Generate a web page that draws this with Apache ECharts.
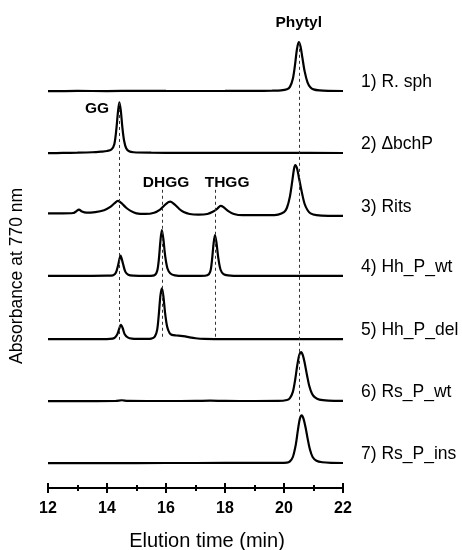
<!DOCTYPE html>
<html><head><meta charset="utf-8">
<script src="https://cdn.jsdelivr.net/npm/echarts@6/dist/echarts.min.js"></script>
<style>html,body{margin:0;padding:0;background:#fff}#c{width:462px;height:550px}</style>
</head><body><div id="c"></div><script>
// ---- data (elution time in min, relative absorbance) ----
const sampleNames = ["1) R. sph","2) \u0394bchP","3) Rits","4) Hh_P_wt","5) Hh_P_del","6) Rs_P_wt","7) Rs_P_ins"];
const xTickValues = [12,14,16,18,20,22];

const rsph = [[12,0],[13,0.004],[14,0.002],[15,0.006],[16,0.004],[17,0.003],[18,0.004],[19,0.006],[19.6,0.008],[19.9,0.012],[20.1,0.03],[20.2,0.07],[20.3,0.2],[20.38,0.45],[20.44,0.68],[20.5,0.79],[20.56,0.72],[20.62,0.55],[20.7,0.32],[20.8,0.14],[20.9,0.06],[21.0,0.03],[21.2,0.012],[21.5,0.005],[22,0.003]];
const dbchP = [[12,0],[12.5,0.004],[13,0.008],[13.5,0.015],[13.8,0.025],[14.0,0.035],[14.15,0.06],[14.25,0.15],[14.32,0.4],[14.37,0.66],[14.42,0.82],[14.47,0.68],[14.52,0.42],[14.58,0.2],[14.65,0.08],[14.75,0.03],[14.9,0.015],[15.5,0.008],[16.5,0.005],[18,0.004],[20,0.004],[22,0.003]];
const rits = [[12,0.03],[12.5,0.03],[12.85,0.035],[12.95,0.06],[13.05,0.09],[13.15,0.06],[13.3,0.04],[13.6,0.05],[13.9,0.08],[14.1,0.13],[14.25,0.19],[14.37,0.23],[14.5,0.19],[14.65,0.12],[14.8,0.07],[15.0,0.03],[15.3,0.02],[15.6,0.04],[15.8,0.09],[15.95,0.16],[16.08,0.21],[16.15,0.22],[16.3,0.17],[16.45,0.1],[16.6,0.05],[16.8,0.02],[17.1,0.01],[17.4,0.02],[17.6,0.06],[17.75,0.11],[17.85,0.15],[17.95,0.13],[18.1,0.07],[18.3,0.02],[18.6,0.0],[19,0],[19.5,0.0],[19.8,0.01],[20.0,0.05],[20.1,0.12],[20.2,0.3],[20.28,0.55],[20.34,0.75],[20.38,0.81],[20.44,0.76],[20.5,0.62],[20.6,0.38],[20.7,0.18],[20.8,0.08],[20.9,0.03],[21.1,0.0],[21.5,-0.01],[22,-0.01]];
const hhPwt = [[12,0.02],[13,0.02],[14,0.025],[14.2,0.03],[14.3,0.07],[14.38,0.2],[14.46,0.35],[14.54,0.22],[14.62,0.09],[14.72,0.04],[14.9,0.025],[15.3,0.02],[15.6,0.03],[15.7,0.1],[15.76,0.3],[15.81,0.58],[15.86,0.76],[15.91,0.62],[15.97,0.35],[16.05,0.14],[16.15,0.06],[16.3,0.03],[16.6,0.02],[17.2,0.02],[17.4,0.03],[17.5,0.09],[17.56,0.28],[17.61,0.53],[17.66,0.68],[17.71,0.56],[17.77,0.32],[17.85,0.12],[17.95,0.05],[18.1,0.03],[18.5,0.02],[20,0.02],[22,0.02]];
const hhPdel = [[12,0],[13.5,0.0],[14.1,0.005],[14.25,0.02],[14.35,0.08],[14.42,0.18],[14.47,0.23],[14.53,0.18],[14.6,0.08],[14.7,0.03],[14.85,0.01],[15.2,0.005],[15.5,0.01],[15.62,0.04],[15.7,0.15],[15.76,0.42],[15.81,0.7],[15.86,0.82],[15.91,0.7],[15.97,0.42],[16.04,0.2],[16.12,0.1],[16.2,0.07],[16.35,0.06],[16.5,0.055],[16.65,0.045],[16.8,0.03],[17.0,0.015],[17.3,0.005],[18,0],[20,0],[22,0]];
const rsPwt = [[12,0],[13,0.002],[14.3,0.004],[14.5,0.015],[14.7,0.004],[16,0.003],[17,0.005],[17.5,0.008],[18,0.004],[19,0.003],[19.8,0.005],[20.1,0.02],[20.2,0.05],[20.3,0.15],[20.38,0.35],[20.45,0.58],[20.52,0.75],[20.58,0.79],[20.64,0.74],[20.7,0.62],[20.78,0.42],[20.86,0.24],[20.95,0.12],[21.05,0.06],[21.2,0.025],[21.5,0.01],[22,0.005]];
const rsPins = [[12,0],[14,0.002],[16,0.003],[18,0.004],[19.5,0.004],[20.1,0.01],[20.2,0.03],[20.3,0.1],[20.4,0.3],[20.47,0.53],[20.54,0.72],[20.6,0.77],[20.66,0.72],[20.73,0.58],[20.8,0.4],[20.88,0.22],[20.97,0.1],[21.1,0.04],[21.3,0.015],[21.6,0.005],[22,0.003]];
const traces = [rsph, dbchP, rits, hhPwt, hhPdel, rsPwt, rsPins];

const peakNames = ["Phytyl","GG","DHGG","THGG"];
const peakTimes = [20.5, 14.42, 15.86, 17.66];

// ---- layout ----
const FONT = "'Liberation Sans', Arial, sans-serif";
const N = traces.length;
const baseOf = i => (N - 1 - i) + 0.4;
// annotation anchors (value coords)
const labelAnchors = [[20.5, 7.5], [13.66, 6.11], [16.0, 4.92], [18.07, 4.92]];
// dashed guide extents (value coords, from top to bottom)
const guideSpans = [[7.18, 1.23], [6.21, 2.39], [4.81, 2.39], [4.81, 2.42]];

const series = traces.map((tr, i) => ({
  type: 'line', name: sampleNames[i], xAxisIndex: 0, yAxisIndex: 0,
  data: tr.map(p => [p[0], p[1] + baseOf(i)]),
  showSymbol: false, symbol: 'none', smooth: 0.3, z: 3,
  lineStyle: { color: '#000', width: 2.2 },
  endLabel: { show: true, formatter: '{a}', position: 'right', distance: 18, offset: [0, -9],
    fontSize: 17.5, color: '#000', fontFamily: FONT }
}));

series.push({
  type: 'scatter', xAxisIndex: 0, yAxisIndex: 0, symbolSize: 0, z: 5,
  itemStyle: { opacity: 1, color: '#000' },
  data: peakNames.map((n, k) => ({ name: n, value: labelAnchors[k] })),
  label: { show: true, position: 'inside', formatter: '{b}', fontSize: 15.5, fontWeight: 'bold', color: '#000', opacity: 1, fontFamily: FONT },
  markLine: {
    silent: true, symbol: ['none', 'none'], animation: false,
    label: { show: false },
    lineStyle: { type: [3, 3], color: '#333', width: 1, opacity: 1 },
    data: peakTimes.map((t, k) => [{ coord: [t, guideSpans[k][0]] }, { coord: [t, guideSpans[k][1]] }])
  }
});

const axisCommon = { type: 'value', min: xTickValues[0], max: xTickValues[xTickValues.length - 1], interval: 2, splitLine: { show: false } };

const option = {
  animation: false,
  textStyle: { fontFamily: FONT },
  grid: { left: 48, right: 119, top: 10.6, bottom: 62, containLabel: false },
  xAxis: [
    Object.assign({}, axisCommon, {
      position: 'bottom',
      axisLine: { show: true, lineStyle: { color: '#000', width: 2 } },
      axisTick: { show: true, inside: false, length: 5, lineStyle: { color: '#000', width: 2 } },
      minorTick: { show: true, splitNumber: 2, length: 3, lineStyle: { color: '#000', width: 2 } },
      axisLabel: { margin: 13, fontSize: 16, fontWeight: 'bold', color: '#000', fontFamily: FONT }
    }),
    Object.assign({}, axisCommon, {
      position: 'bottom', offset: 0,
      axisLine: { show: false },
      axisTick: { show: true, inside: true, length: 5, lineStyle: { color: '#000', width: 2 } },
      minorTick: { show: true, splitNumber: 2, length: 3, lineStyle: { color: '#000', width: 2 } },
      axisLabel: { show: false }
    })
  ],
  yAxis: { type: 'value', min: 0, max: 7.7, show: false },
  graphic: [
    { type: 'text', x: 17, y: 276, rotation: Math.PI / 2,
      style: { text: 'Absorbance at 770 nm', fontSize: 17.5, fill: '#000', align: 'center', verticalAlign: 'middle', fontFamily: FONT } },
    { type: 'text', x: 207, y: 541,
      style: { text: 'Elution time (min)', fontSize: 20, fill: '#000', align: 'center', verticalAlign: 'middle', fontFamily: FONT } }
  ],
  series: series
};
const chart = echarts.init(document.getElementById('c'), null, { renderer: 'canvas' });
chart.setOption(option);
</script></body></html>
